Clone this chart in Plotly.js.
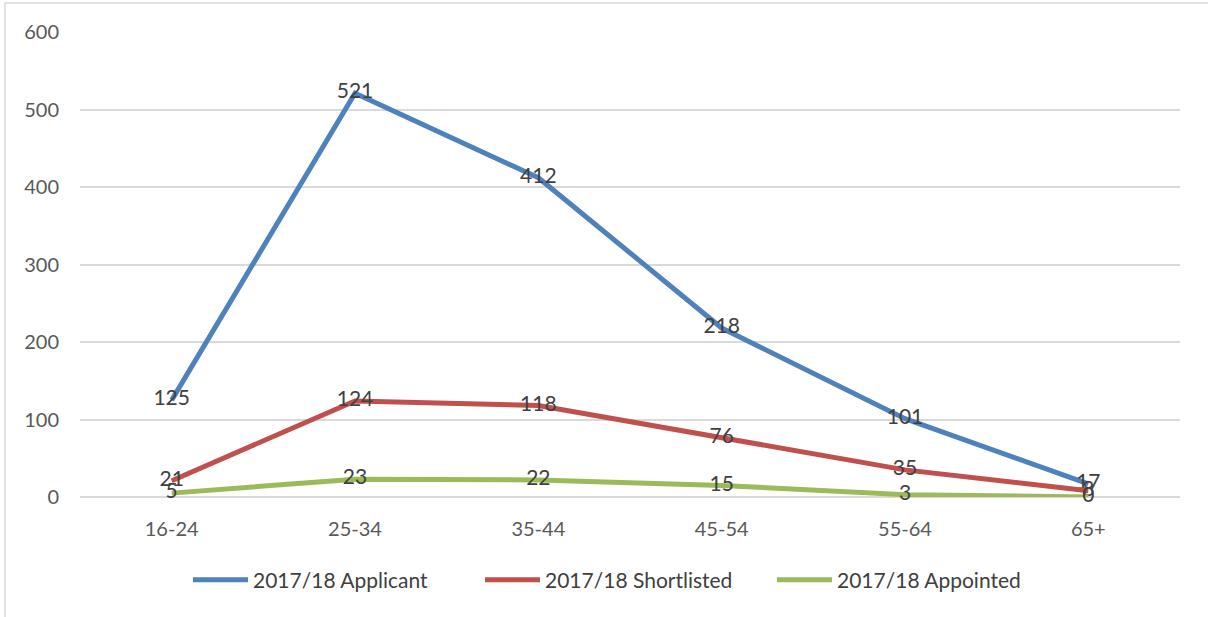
<!DOCTYPE html>
<html>
<head>
<meta charset="utf-8">
<script src="https://cdn.plot.ly/plotly-3.0.1.min.js"></script>
<style>html,body{margin:0;padding:0;background:#fff;}#chart{width:1208px;height:617px;}</style>
</head>
<body>
<div id="chart"></div>
<script>
const categories = ["16-24", "25-34", "35-44", "45-54", "55-64", "65+"];
const applicant = [125, 521, 412, 218, 101, 17];
const shortlisted = [21, 124, 118, 76, 35, 8];
const appointed = [5, 23, 22, 15, 3, 0];
const seriesNames = ["2017/18 Applicant", "2017/18 Shortlisted", "2017/18 Appointed"];
const colors = ["#4f81bd", "#c0504d", "#9bbb59"];
const yTicks = [0, 100, 200, 300, 400, 500, 600];

const font = "Lato, 'Open Sans', sans-serif";
const series = [applicant, shortlisted, appointed];
const traces = series.map((vals, i) => ({
  type: "scatter",
  mode: "lines+text",
  x: categories,
  y: vals,
  name: seriesNames[i],
  text: vals.map(String),
  textposition: "middle center",
  textfont: {family: font, size: 21, color: "#404040"},
  line: {color: colors[i], width: 5},
  cliponaxis: false,
  hoverinfo: "skip"
}));

const layout = {
  width: 1208, height: 617,
  margin: {l: 80, r: 28, t: 32, b: 120, autoexpand: false},
  paper_bgcolor: "#fff", plot_bgcolor: "#fff",
  showlegend: true,
  legend: {orientation: "h", x: (188 - 80) / 1100, xanchor: "left", y: (497 - 580) / 465, yanchor: "middle",
           font: {family: font, size: 21, color: "#404040"}, itemwidth: 55,
           entrywidth: 222, entrywidthmode: "pixels"},
  xaxis: {type: "category", range: [-0.5, 5.5], showgrid: false, zeroline: false,
          showline: false, ticks: "", ticklabelstandoff: 18,
          tickfont: {family: font, size: 20, color: "#595959"}},
  yaxis: {range: [0, 600], tickvals: yTicks, ticktext: yTicks.map(String), showgrid: true,
          gridcolor: "#d9d9d9", gridwidth: 2, zeroline: true, zerolinecolor: "#d9d9d9", zerolinewidth: 2,
          showline: false, ticks: "", ticklabelstandoff: 20,
          tickfont: {family: font, size: 20, color: "#595959"}},
  shapes: [{type: "rect", xref: "paper", yref: "paper",
            x0: (5 - 80) / 1100, x1: (1215 - 80) / 1100,
            y0: (497 - 620) / 465, y1: (497 - 3) / 465,
            line: {color: "#d9d9d9", width: 1.5}, fillcolor: "rgba(0,0,0,0)", layer: "below"}]
};

Plotly.newPlot("chart", traces, layout, {displayModeBar: false, staticPlot: true});
</script>
</body>
</html>
